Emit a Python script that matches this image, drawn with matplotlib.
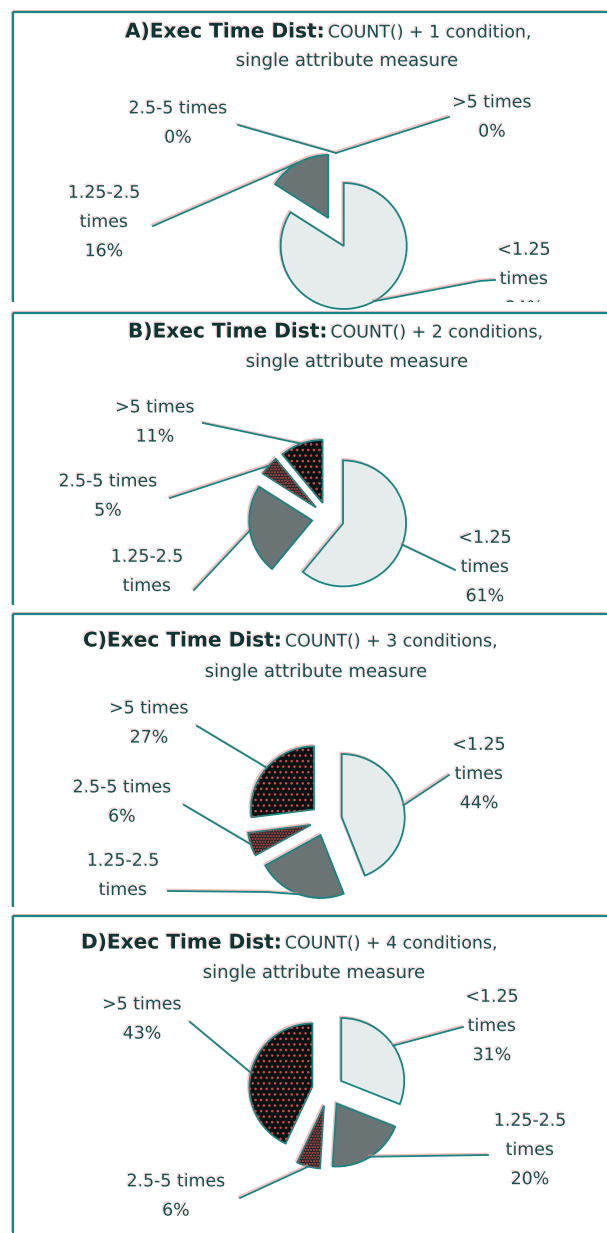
import matplotlib.pyplot as plt
import matplotlib.patheffects as pe
from matplotlib.patches import Wedge
import numpy as np

plt.rcParams['font.family'] = ['DejaVu Sans']

# share of queries per execution-time ratio bucket (percent)
categories = ['<1.25\ntimes', '1.25-2.5\ntimes', '2.5-5 times', '>5 times']
share_a = [84, 16, 0, 0]
share_b = [61, 23, 5, 11]
share_c = [44, 23, 6, 27]
share_d = [31, 20, 6, 43]
panel_tags = ['A', 'B', 'C', 'D']
conditions = ['1 condition,', '2 conditions,', '3 conditions,', '4 conditions,']

W, H = 607, 1233
teal = '#168584'
ink = '#174f50'
title_ink = '#0f3434'
fills = ['#e6ebeb', '#6a7474', '#1b2828', '#091212']
dot_hatch = [None, None, '......', '...']
R = 63
EXPLODE = 16

ghost_line = [pe.SimpleLineShadow(offset=(-1, 1), shadow_color='#f28a8a', alpha=0.55), pe.Normal()]
ghost_text = [pe.withSimplePatchShadow(offset=(-1, 1), shadow_rgbFace='#f4a4a4', alpha=0.45)]

# layout of each strip in pixel coordinates (y grows downward)
panels = [
    dict(y0=0, y1=302, border=12, title_x=125, title_y=32, sub=(347, 61), centre=(336, 232),
         labels=[(524, 279), (104, 222), (178, 123), (492, 117)],
         leaders=[[(495, 280), (480, 281)], [(153, 226)], [(238, 125)], [(449, 117)]]),
    dict(y0=302, y1=605, border=313, title_x=128, title_y=332, sub=(357, 362), centre=(328, 518),
         labels=[(485, 567), (147, 586), (108, 496), (155, 422)],
         leaders=[[(455, 570)], [(194, 590)], [(170, 498)], [(203, 423)]]),
    dict(y0=605, y1=907, border=614, title_x=83, title_y=641, sub=(316, 672), centre=(326, 820),
         labels=[(479, 774), (123, 890), (122, 802), (149, 723)],
         leaders=[[(449, 775)], [(168, 891), (267, 892)], [(184, 805)], [(197, 726)]]),
    dict(y0=907, y1=1233, border=916, title_x=81, title_y=943, sub=(314, 973), centre=(328, 1090),
         labels=[(492, 1026), (530, 1150), (176, 1196), (142, 1019)],
         leaders=[[(463, 1027)], [(488, 1155)], [(240, 1198)], [(190, 1022)]]),
]
shares = [share_a, share_b, share_c, share_d]

fig = plt.figure(figsize=(W / 100, H / 100), dpi=100)
fig.patch.set_facecolor('white')

for tag, cond, vals, p in zip(panel_tags, conditions, shares, panels):
    y0, y1 = p['y0'], p['y1']
    ax = fig.add_axes([0, 1 - y1 / H, 1, (y1 - y0) / H])
    cx, cy = p['centre']

    wedges, _ = ax.pie(vals, radius=R, center=(cx, -cy), startangle=90, counterclock=False,
                       explode=[EXPLODE] * len(vals), colors=fills,
                       wedgeprops=dict(edgecolor=teal, linewidth=1.3))
    ax.set_xlim(0, W)
    ax.set_ylim(-y1, -y0)
    ax.set_aspect('auto')
    ax.axis('off')

    for w, v, hatch in zip(wedges, vals, dot_hatch):
        if v == 0:
            w.set_visible(False)
            continue
        w.set_path_effects(ghost_line)
        if hatch:
            ax.add_patch(Wedge(w.center, w.r, w.theta1, w.theta2, facecolor='none',
                               edgecolor='#d04848', linewidth=0, hatch=hatch))

    # leader lines run from the label to the middle of each slice's arc
    for w, pts in zip(wedges, p['leaders']):
        mid = np.deg2rad((w.theta1 + w.theta2) / 2)
        ex = w.center[0] + w.r * np.cos(mid)
        ey = w.center[1] + w.r * np.sin(mid)
        xs = [q[0] for q in pts] + [ex]
        ys = [-q[1] for q in pts] + [ey]
        ax.plot(xs, ys, color=teal, lw=1.3, path_effects=ghost_line)

    for cat, v, (lx, ly) in zip(categories, vals, p['labels']):
        ax.text(lx, -ly, f'{cat}\n{v}%', ha='center', va='center', fontsize=12.5,
                color=ink, linespacing=1.8, clip_on=True, path_effects=ghost_text)

    # strip border: top and left edges only
    b = p['border']
    ax.plot([13, W], [-b, -b], color=teal, lw=1.6, solid_capstyle='butt', path_effects=ghost_line)
    ax.plot([13, 13], [-b, -y1], color=teal, lw=1.6, solid_capstyle='butt', path_effects=ghost_line)

    head = ax.text(p['title_x'], -p['title_y'], f'{tag})Exec Time Dist:', ha='left', va='center',
                   fontsize=14.5, fontweight='bold', color=title_ink, path_effects=ghost_text)
    ax.annotate(f'COUNT() + {cond}', xy=(1, 0), xycoords=head, xytext=(2, 0),
                textcoords='offset points', ha='left', va='bottom', fontsize=12.5,
                color=ink, path_effects=ghost_text)
    sx, sy = p['sub']
    ax.text(sx, -sy, 'single attribute measure', ha='center', va='center', fontsize=13,
            color=ink, path_effects=ghost_text)

fig.savefig('out.png', dpi=100, facecolor='white')
